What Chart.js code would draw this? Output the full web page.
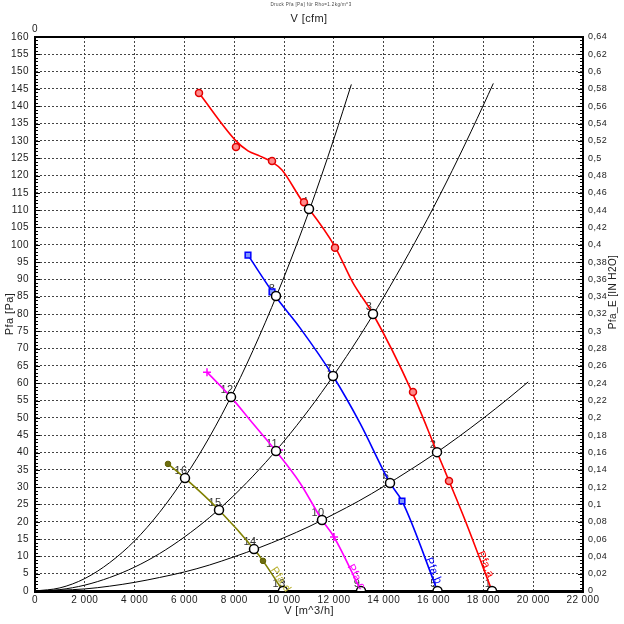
<!DOCTYPE html>
<html>
<head>
<meta charset="utf-8">
<script src="https://cdn.jsdelivr.net/npm/chart.js@4.4.0/dist/chart.umd.min.js"></script>
<style>
  html, body { margin: 0; padding: 0; background: #fff; }
</style>
</head>
<body>
<canvas id="chart" width="624" height="624"></canvas>
<script>
// V in m^3/h, P in Pa

// fan curves (traced lines)
const fanA_V = [6584, 8029, 8551, 9033, 9515, 9916, 10759, 11000, 12044, 12766, 13569, 15135, 16139, 16620, 17263, 18347];
const fanA_P = [143.8, 130.3, 127.1, 125.6, 123.9, 121.6, 112.3, 110.3, 99.4, 89.0, 80.0, 57.5, 40.1, 31.8, 20.5, 0];
const fanB_V = [8551, 9675, 10639, 11964, 13047, 14252, 14733, 16160];
const fanB_P = [97.0, 84.9, 76.0, 62.1, 48.5, 31.2, 26.0, 0];
const fanC_V = [6905, 7869, 8631, 9675, 10639, 11522, 12004, 13088];
const fanC_P = [63.2, 56.0, 49.4, 40.4, 31.2, 20.5, 15.6, 0];
const fanD_V = [5339, 6022, 7387, 8792, 9153, 9956];
const fanD_P = [36.7, 32.6, 23.4, 12.1, 8.7, 0];

// measured points on the fan curves
const markA_V = [6584, 8069, 9515, 10799, 12044, 15175, 16620];
const markA_P = [143.8, 128.2, 124.2, 112.3, 99.1, 57.5, 31.8];
const markB_V = [8551, 9515, 11964, 14733];
const markB_P = [97.0, 86.4, 62.1, 26.0];
const markC_V = [6905, 9800, 12004];
const markC_P = [63.2, 40.7, 15.6];
const markD_V = [5339, 9153];
const markD_P = [36.7, 8.7];

// system curves
const sys1_V = [0, 1000, 2000, 3000, 4000, 5000, 6000, 7000, 8000, 9000, 10000, 11000, 12000, 12700];
const sys1_P = [0, 0.9, 3.6, 8.2, 14.5, 22.7, 32.7, 44.4, 58.0, 73.5, 90.7, 109.7, 130.6, 146.3];
const sys2_V = [0, 1000, 2000, 3000, 4000, 5000, 6000, 7000, 8000, 9000, 10000, 11000, 12000, 13000, 14000, 15000, 16000, 17000, 18000, 18400];
const sys2_P = [0, 0.4, 1.7, 3.9, 6.9, 10.8, 15.6, 21.2, 27.7, 35.1, 43.3, 52.4, 62.4, 73.2, 84.9, 97.4, 110.8, 125.1, 140.3, 146.6];
const sys3_V = [0, 2000, 3000, 4000, 5000, 6000, 7000, 8000, 9000, 10000, 11000, 12000, 13000, 14000, 15000, 16000, 17000, 18000, 19000, 19800];
const sys3_P = [0, 0.6, 1.4, 2.5, 3.9, 5.5, 7.5, 9.9, 12.5, 15.4, 18.6, 22.2, 26.0, 30.2, 34.7, 39.4, 44.5, 49.9, 55.6, 60.4];

// operating points 1..16
const opNames = ['1', '2', '3', '4', '5', '6', '7', '8', '9', '10', '11', '12', '13', '14', '15', '16'];
const opV = [18347, 16139, 13569, 11000, 16160, 14252, 11964, 9675, 13088, 11522, 9675, 7869, 9956, 8792, 7387, 6022];
const opP = [0, 40.1, 80.0, 110.3, 0, 31.2, 62.1, 85.2, 0, 20.5, 40.4, 56.0, 0, 12.1, 23.4, 32.6];

const fanNames = ['Pfa.a', 'Pfa.b', 'Pfa.c', 'Pfa.d'];

const CFM_PER_M3H = 0.5886;
const FONT = "'Liberation Sans', Arial, sans-serif";

const pts = (xs, ys) => xs.map((x, i) => ({ x: x, y: ys[i] }));

function thousands(v) {
    if (v === 0) return '0';
    if (v % 1000 !== 0) return '';
    return (v / 1000) + ' 000';
}

function lineSet(xs, ys, color, width) {
    return {
        data: pts(xs, ys),
        showLine: true,
        borderColor: color,
        borderWidth: width,
        pointRadius: 0,
        cubicInterpolationMode: 'monotone',
        tension: 0.4
    };
}

const annotations = {
    id: 'annotations',
    beforeDraw(chart) {
        chart.ctx.letterSpacing = '0.4px';
    },
    beforeDatasetsDraw(chart) {
        const ctx = chart.ctx;
        const meta = chart.getDatasetMeta(0);
        ctx.save();
        ctx.font = '11px ' + FONT;
        ctx.fillStyle = '#333';
        ctx.textAlign = 'center';
        ctx.textBaseline = 'middle';
        meta.data.forEach((el, i) => {
            ctx.fillText(opNames[i], el.x - 4, el.y - 7);
        });
        ctx.restore();
    },
    afterDraw(chart) {
        const ctx = chart.ctx;
        const x = chart.scales.x, y = chart.scales.y;
        const area = chart.chartArea;

        // minor ticks on the pressure axes
        ctx.save();
        ctx.strokeStyle = '#000';
        ctx.lineWidth = 1;
        ctx.beginPath();
        for (let p = 1; p < 160; p++) {
            const py = Math.round(y.getPixelForValue(p)) + 0.5;
            const len = p % 5 === 0 ? 5 : 3;
            ctx.moveTo(area.left, py); ctx.lineTo(area.left + len, py);
            ctx.moveTo(area.right, py); ctx.lineTo(area.right - len, py);
        }
        ctx.stroke();
        ctx.restore();

        // fan curve names along the lines
        const labels = [
            { v: 17865, p: 11.3, a: 66, c: '#ff0000' },
            { v: 15777, p: 9.5, a: 67, c: '#0000ff' },
            { v: 12646, p: 7.5, a: 62, c: '#ff00ff' },
            { v: 9555, p: 6.6, a: 56, c: '#b8b030' }
        ];
        ctx.save();
        ctx.font = '11px ' + FONT;
        ctx.textBaseline = 'middle';
        labels.forEach((l, i) => {
            ctx.save();
            ctx.translate(x.getPixelForValue(l.v), y.getPixelForValue(l.p));
            ctx.rotate(l.a * Math.PI / 180);
            ctx.fillStyle = l.c;
            ctx.fillText(fanNames[i], 0, 0);
            ctx.restore();
        });
        ctx.restore();

        // right axis title (reads bottom to top)
        ctx.save();
        ctx.font = '10px ' + FONT;
        ctx.fillStyle = '#222';
        ctx.textAlign = 'center';
        ctx.textBaseline = 'middle';
        ctx.translate(613, 292);
        ctx.rotate(-Math.PI / 2);
        ctx.fillText('Pfa_E [IN H2O]', 0, 0);
        ctx.restore();

        // main title
        ctx.save();
        ctx.font = '4.5px ' + FONT;
        ctx.fillStyle = '#444';
        ctx.textAlign = 'center';
        ctx.textBaseline = 'middle';
        ctx.fillText('Druck Pfa [Pa] für Rho=1.2kg/m^3', 311, 5);
        ctx.restore();
    }
};

const tickFont = { family: FONT, size: 10 };
const titleFont = { family: FONT, size: 11 };

new Chart(document.getElementById('chart'), {
    type: 'scatter',
    data: {
        datasets: [
            {
                data: pts(opV, opP),
                pointRadius: 4.5,
                pointBackgroundColor: '#fff',
                pointBorderColor: '#000',
                pointBorderWidth: 1.5,
                clip: 0
            },
            { data: pts(markA_V, markA_P), pointRadius: 3.5, pointBorderWidth: 1.5, pointBorderColor: '#e00000', pointBackgroundColor: '#ff8c8c' },
            { data: pts(markB_V, markB_P), pointStyle: 'rect', pointRadius: 4, pointBorderWidth: 1.5, pointBorderColor: '#0000ff', pointBackgroundColor: '#7f95ff' },
            { data: pts(markC_V, markC_P), pointStyle: 'cross', pointRadius: 4, pointBorderWidth: 1.5, pointBorderColor: '#ff00ff' },
            { data: pts(markD_V, markD_P), pointRadius: 2.8, pointBorderWidth: 1, pointBorderColor: '#5e5e00', pointBackgroundColor: '#6e6e10' },
            lineSet(fanA_V, fanA_P, '#ff0000', 1.6),
            lineSet(fanB_V, fanB_P, '#0000ff', 1.6),
            lineSet(fanC_V, fanC_P, '#ff00ff', 1.6),
            lineSet(fanD_V, fanD_P, '#808000', 1.6),
            lineSet(sys1_V, sys1_P, '#000', 1),
            lineSet(sys2_V, sys2_P, '#000', 1),
            lineSet(sys3_V, sys3_P, '#000', 1)
        ]
    },
    options: {
        responsive: false,
        animation: false,
        layout: { padding: 0 },
        plugins: {
            legend: { display: false },
            tooltip: { enabled: false }
        },
        scales: {
            x: {
                type: 'linear',
                position: 'bottom',
                min: 0,
                max: 22000,
                afterFit: s => { s.height = 33; },
                grid: { color: '#444', lineWidth: 1, drawTicks: false },
                border: { color: '#000', width: 3, dash: [2, 2] },
                ticks: { stepSize: 2000, padding: 3, color: '#222', font: tickFont, callback: thousands, autoSkip: false, maxRotation: 0 },
                title: { display: true, text: 'V [m^3/h]', color: '#222', font: titleFont, padding: { top: 0, bottom: 6 } }
            },
            xTop: {
                type: 'linear',
                position: 'top',
                min: 0,
                max: 22000 * CFM_PER_M3H,
                afterFit: s => { s.height = 37; },
                grid: { display: false, drawTicks: false },
                border: { color: '#000', width: 2 },
                ticks: { stepSize: 2000, includeBounds: false, padding: 2, color: '#222', font: tickFont, callback: thousands, autoSkip: false, maxRotation: 0 },
                title: { display: true, text: 'V [cfm]', color: '#222', font: titleFont, padding: { top: 12, bottom: 0 } }
            },
            y: {
                type: 'linear',
                position: 'left',
                min: 0,
                max: 160,
                afterFit: s => { s.width = 35; },
                grid: { color: '#444', lineWidth: 1, drawTicks: false },
                border: { color: '#000', width: 2, dash: [2, 2] },
                ticks: { stepSize: 5, padding: 6, color: '#222', font: tickFont, autoSkip: false },
                title: { display: true, text: 'Pfa [Pa]', color: '#222', font: titleFont, padding: { top: 3, bottom: 0 } }
            },
            yR: {
                type: 'linear',
                position: 'right',
                min: 0,
                max: 0.64,
                afterFit: s => { s.width = 41; },
                grid: { display: false, drawTicks: false },
                border: { color: '#000', width: 2 },
                ticks: {
                    stepSize: 0.02,
                    padding: 5,
                    color: '#222',
                    font: { family: FONT, size: 9 },
                    autoSkip: false,
                    callback: v => v === 0 ? '0' : String(Math.round(v * 100) / 100).replace('.', ',')
                }
            }
        }
    },
    plugins: [annotations]
});
</script>
</body>
</html>
